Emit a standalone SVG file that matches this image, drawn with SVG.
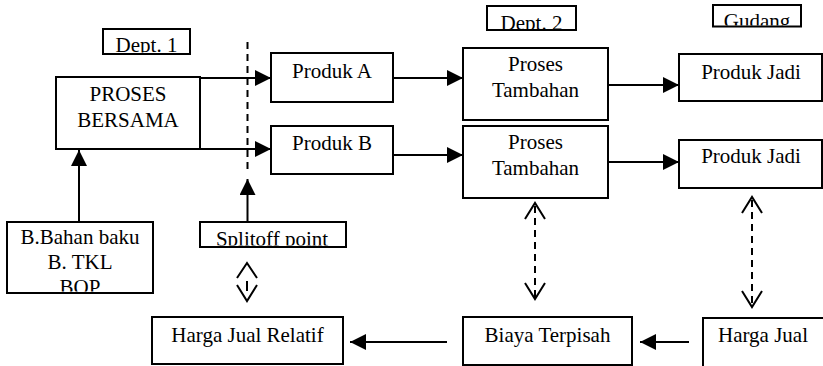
<svg xmlns="http://www.w3.org/2000/svg" width="823" height="366" viewBox="0 0 823 366">
<style>
.box{fill:#fff;stroke:#000;stroke-width:2}
.t{font-family:"Liberation Serif","Times New Roman",serif;font-size:21px;fill:#000;text-anchor:middle}
.ln{stroke:#000;stroke-width:2;fill:none}
.dash{stroke:#000;stroke-width:2;fill:none;stroke-dasharray:7 5}
</style>
<defs>
<marker id="ah" markerUnits="userSpaceOnUse" markerWidth="16" markerHeight="16" viewBox="0 0 16 16" refX="16" refY="8" orient="auto">
<path d="M0,0 L16,8 L0,16 Z" fill="#000"/>
</marker>
<clipPath id="c-dept1"><rect x="104" y="30" width="85" height="22.5"/></clipPath>
<clipPath id="c-dept2"><rect x="488" y="7" width="87" height="22"/></clipPath>
<clipPath id="c-gudang"><rect x="714" y="6" width="86" height="19.5"/></clipPath>
<clipPath id="c-bahan"><rect x="8" y="223" width="144" height="68.5"/></clipPath>
<clipPath id="c-split"><rect x="201" y="223" width="144" height="22.5"/></clipPath>
</defs>

<g id="dept1">
<rect class="box" x="103" y="29" width="87" height="25"/>
<text class="t" x="146.5" y="52" clip-path="url(#c-dept1)">Dept. 1</text>
</g>
<g id="dept2">
<rect class="box" x="487" y="6" width="89" height="24"/>
<text class="t" x="531.5" y="30" clip-path="url(#c-dept2)">Dept. 2</text>
</g>
<g id="gudang">
<rect class="box" x="713" y="5" width="88" height="21.5"/>
<text class="t" x="757" y="27.5" clip-path="url(#c-gudang)">Gudang</text>
</g>

<g id="proses-bersama">
<rect class="box" x="56" y="77" width="144" height="72"/>
<text class="t" x="128" y="100.5">PROSES</text>
<text class="t" x="128" y="126.5">BERSAMA</text>
</g>
<g id="produk-a">
<rect class="box" x="271" y="53" width="122" height="49"/>
<text class="t" x="332" y="78">Produk A</text>
</g>
<g id="produk-b">
<rect class="box" x="271" y="126" width="122" height="48"/>
<text class="t" x="332" y="150">Produk B</text>
</g>
<g id="proses-tambahan-1">
<rect class="box" x="463" y="48" width="145" height="72"/>
<text class="t" x="535.5" y="70.5">Proses</text>
<text class="t" x="535.5" y="96.5">Tambahan</text>
</g>
<g id="proses-tambahan-2">
<rect class="box" x="463" y="126" width="145" height="72"/>
<text class="t" x="535.5" y="148.5">Proses</text>
<text class="t" x="535.5" y="174.5">Tambahan</text>
</g>
<g id="produk-jadi-1">
<rect class="box" x="679" y="54" width="143" height="47"/>
<text class="t" x="751" y="79">Produk Jadi</text>
</g>
<g id="produk-jadi-2">
<rect class="box" x="679" y="140" width="143" height="48"/>
<text class="t" x="751" y="163">Produk Jadi</text>
</g>
<g id="bahan">
<rect class="box" x="7" y="222" width="146" height="71"/>
<g clip-path="url(#c-bahan)">
<text class="t" x="80" y="243.5">B.Bahan baku</text>
<text class="t" x="80" y="269">B. TKL</text>
<text class="t" x="80" y="294">BOP</text>
</g>
</g>
<g id="splitoff">
<rect class="box" x="200" y="222" width="146" height="25"/>
<text class="t" x="272" y="246" clip-path="url(#c-split)">Splitoff point</text>
</g>
<g id="harga-jual-relatif">
<rect class="box" x="152" y="317" width="191" height="47"/>
<text class="t" x="247.5" y="342">Harga Jual Relatif</text>
</g>
<g id="biaya-terpisah">
<rect class="box" x="463" y="317" width="169" height="48"/>
<text class="t" x="547.5" y="342">Biaya Terpisah</text>
</g>
<g id="harga-jual">
<rect class="box" x="703" y="318" width="130" height="60"/>
<text class="t" x="763" y="342">Harga Jual</text>
</g>

<g id="connectors">
<line class="dash" x1="247.5" y1="42" x2="247.5" y2="170" stroke-dasharray="6 4"/>
<line class="ln" x1="200" y1="78" x2="271" y2="78" marker-end="url(#ah)"/>
<line class="ln" x1="200" y1="149" x2="271" y2="149" marker-end="url(#ah)"/>
<line class="ln" x1="79" y1="222" x2="79" y2="150" marker-end="url(#ah)"/>
<line class="ln" x1="247.5" y1="222" x2="247.5" y2="179" marker-end="url(#ah)"/>
<line class="ln" x1="393" y1="78" x2="463" y2="78" marker-end="url(#ah)"/>
<line class="ln" x1="393" y1="155" x2="463" y2="155" marker-end="url(#ah)"/>
<line class="ln" x1="608" y1="85" x2="679" y2="85" marker-end="url(#ah)"/>
<line class="ln" x1="608" y1="162" x2="679" y2="162" marker-end="url(#ah)"/>
<line class="ln" x1="447" y1="342" x2="350" y2="342" marker-end="url(#ah)"/>
<line class="ln" x1="689" y1="342" x2="640" y2="342" marker-end="url(#ah)"/>

<polyline class="ln" points="237,278 247,263 257,278"/>
<polyline class="ln" points="237,285 247,301 257,285"/>
<line class="ln" x1="247" y1="281" x2="247" y2="291"/>

<polyline class="ln" points="525,219 535,203 545,219"/>
<polyline class="ln" points="525,283 535,299 545,283"/>
<line class="dash" x1="535" y1="206" x2="535" y2="297"/>

<polyline class="ln" points="742,213 752,197 762,213"/>
<polyline class="ln" points="742,291 752,307 762,291"/>
<line class="dash" x1="752" y1="200" x2="752" y2="305"/>
</g>
</svg>
